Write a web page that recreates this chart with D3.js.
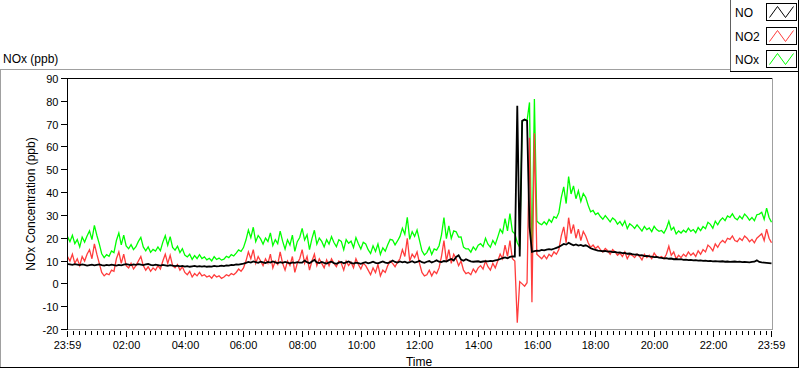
<!DOCTYPE html>
<html><head><meta charset="utf-8">
<script src="https://cdn.jsdelivr.net/npm/d3@7/dist/d3.min.js"></script>
<style>
html,body{margin:0;padding:0;background:#fff;}
svg{display:block;font-family:"Liberation Sans",Arial,sans-serif;}
</style></head><body>
<svg id="chart" width="800" height="369"></svg>
<script>
// ---------------- data ----------------
const chartTitle = "NOx (ppb)";
const yLabel = "NOx Concentration (ppb)";
const xLabel = "Time";
const seriesNames = ["NO", "NO2", "NOx"];
const seriesColors = ["#000000", "#ff3c3c", "#00ff00"];
const startTime = "2000-01-01T23:59";
const endTime = "2000-01-02T23:59";
const stepMinutes = 5;
const yTicks = [-20, -10, 0, 10, 20, 30, 40, 50, 60, 70, 80, 90];
const xTickLabels = ["23:59","02:00","04:00","06:00","08:00","10:00","12:00","14:00","16:00","18:00","20:00","22:00","23:59"];
const xTickTimes = ["2000-01-01T23:59","2000-01-02T02:00","2000-01-02T04:00","2000-01-02T06:00","2000-01-02T08:00","2000-01-02T10:00","2000-01-02T12:00","2000-01-02T14:00","2000-01-02T16:00","2000-01-02T18:00","2000-01-02T20:00","2000-01-02T22:00","2000-01-02T23:59"];
const minorTickMinutes = 12;

const NO = [
8.7,8.5,8.3,8.6,8.4,8.2,8.5,8.3,8.0,8.2,8.4,8.1,8.3,8.5,8.2,8.0,8.3,8.1,8.4,8.2,8.0,8.3,8.1,8.4,8.6,
8.4,8.2,8.5,8.3,8.6,8.4,8.2,8.5,8.7,8.3,8.1,8.4,8.2,8.0,8.3,8.1,7.9,8.2,8.0,7.8,8.0,7.7,7.9,7.6,7.8,7.5,7.7,7.9,7.6,7.8,
7.6,7.8,7.5,7.7,7.6,7.9,7.7,7.8,8.0,7.8,8.1,8.0,8.3,8.2,8.5,8.4,8.7,8.9,
9.2,9.6,9.3,9.8,9.5,9.2,9.7,9.4,9.1,9.6,9.3,9.8,9.4,9.1,9.5,9.2,9.6,9.3,9.0,9.4,9.2,9.5,9.3,
9.3,10.2,9.5,9.0,9.8,10.5,9.4,9.1,9.6,9.2,8.9,9.4,9.7,9.1,8.8,9.3,9.6,9.0,9.4,9.8,9.2,8.9,9.3,9.1,8.8,9.2,9.5,9.0,9.3,9.7,9.2,9.0,9.4,9.8,9.3,9.1,9.5,10.2,9.6,9.3,9.8,
9.4,9.7,9.2,9.5,9.9,9.3,9.6,10.1,9.5,9.2,9.7,10.0,9.4,9.8,10.3,9.7,9.5,10.0,9.8,10.4,10.9,10.2,11.8,12.5,10.6,10.1,10.8,10.3,9.9,9.7,9.8,9.9,9.6,9.8,10.0,9.9,10.1,10.0,10.3,10.5,10.9,11.3,11.6,11.2,11.8,12.0,
12,78,12,71.5,72,71.5,25,14,14.3,
14.6,14.5,14.9,14.7,15.0,15.2,15.0,15.4,15.8,16.2,
16.8,17.5,17.2,18.0,17.4,16.9,17.3,16.8,17.1,16.6,16.9,16.4,
15.6,15.2,14.9,14.6,14.5,14.3,14.4,14.1,14.2,13.9,14.0,13.7,13.8,13.5,13.6,13.2,13.3,13.0,12.8,12.9,12.5,12.6,12.2,12.3,12.0,11.9,11.7,11.8,11.5,
11.4,11.2,11.3,11.0,11.1,10.8,10.9,10.7,10.8,10.5,10.6,10.4,10.5,10.3,10.4,10.2,10.3,10.1,10.2,10.0,10.1,9.9,10.0,9.9,9.8,9.9,9.7,9.8,9.6,9.7,9.8,9.6,9.7,9.5,9.6,9.5,9.4,9.6,9.7,10.3,9.6,9.4,9.3,9.2,9.1,9.0
];
const NO2 = [
12,10,13,9,11,8,12,10,13,15,11,17.5,13,9,5,3.5,4.5,4,6,5.5,11,14,9,13,8,
7,9,6.5,8,10,12,8,6,7.5,5.5,7,6,8,6.5,10,13,9,12.5,8,7,8.5,6,7.5,5,4,5.5,3,4.5,3.5,5,
3.5,4,3,3.5,2.5,4,3,3.5,2.4,3,4,3.5,4.5,4,5,6.5,5.5,7,
10,14,11,15,9,12,10,8,11,9,13,7,10,8.5,14,9,6,10,8,12,5,9,11,
15,9,12,6,10,13,8,11,9,7,10.5,8,11,9,7.5,10,9,6,10,8,9.5,7,11,8.5,6.5,9,8,6,4,7,5,8.5,3.5,6,5,8,10,9,7.5,9.5,11,
15,12,20,10,13,11.5,14,9,5,3.5,4,6,3.5,5.5,4.5,7,12,19,10,15,9,13,11,8,10,6,4.5,5,4,6.5,5,7,8,6.5,10,7.5,6,9,7,10,13,11,17,12,19,11,
10,-17,1,0,-1,0.5,64,-8,66,
13,12,11,12.5,11,13,12,14,13,15,
21,25,18,29,22,26,20,24,19,23,21,18,
16,17,15.5,16.5,15,14,15.5,14.5,13,15,14,12.5,13.5,12,14,11,13,12.5,11.5,13,12,10.5,13,11.5,12.5,11,13.5,12,11.5,
12,11,13,16.5,12.5,14,11,12.5,11.5,13,12,14,12.5,13.5,12,14.5,13,15,14,17,16,14.5,17.5,16,18,19,18,20,19.5,21,19,18.5,20,19,21,20,18.5,19.5,18,20,21,22,19,24,20,18
];
const NOx = [
20.7,18.5,21.3,17.6,19.4,16.2,20.5,18.3,21,23.2,19.4,25.6,21.3,17.5,13.2,11.5,12.8,12.1,14.4,13.7,19,22.3,17.1,21.4,16.6,
15.4,17.2,15,16.3,18.6,20.4,16.2,14.5,16.2,13.8,15.1,14.4,16.2,14.5,18.3,21.1,16.9,20.7,16,14.8,16.5,13.7,15.4,12.6,11.8,13,10.7,12.4,11.1,12.8,
11.1,11.8,10.5,11.2,10.1,11.9,10.7,11.3,10.4,10.8,12.1,11.5,12.8,12.2,13.5,14.9,14.2,15.9,
19.2,23.6,20.3,24.8,18.5,21.2,19.7,17.4,20.1,18.6,22.3,16.8,19.4,17.6,23.1,18.7,15.2,19.3,17,21.4,14.2,18.5,20.3,
24.3,19.2,21.5,15,19.8,23.5,17.4,20.1,18.6,16.2,19.4,17.4,20.7,18.1,16.3,19.3,18.6,15,19.4,17.8,18.7,15.9,20.3,17.6,15.3,18.2,17.5,15,13.3,16.7,14.2,17.5,12.9,15.8,14.3,17.1,19.5,19.2,17.1,18.8,20.8,
24.4,21.7,29.2,19.5,22.9,20.8,23.6,19.1,14.5,12.7,13.7,16,12.9,15.3,14.8,16.7,21.5,29,19.8,25.4,19.9,23.2,22.8,20.5,20.6,16.1,15.3,15.3,13.9,16.2,14.8,16.9,17.6,16.3,20,17.4,16.1,19,17.3,20.5,23.9,22.3,28.6,23.2,30.8,23,
22,18,16,71,72,71.5,79.5,7,81,
27.6,26.5,25.9,27.2,26,28.2,27,29.4,28.8,31.2,
37.8,42.5,35.2,47,39.4,42.9,37.3,40.8,36.1,39.6,37.9,34.4,
31.6,32.2,30.4,31.1,29.5,28.3,29.9,28.6,27.2,28.9,28,26.2,27.3,25.5,27.6,24.2,26.3,25.5,24.3,25.9,24.5,23.1,25.2,23.8,24.5,22.9,25.2,23.8,23,
23.4,22.2,24.3,27.5,23.6,24.8,21.9,23.2,22.3,23.5,22.6,24.4,23,23.8,22.4,24.7,23.3,25.1,24.2,27,26.1,24.4,27.5,25.9,27.8,28.9,27.7,29.8,29.1,30.7,28.8,28.1,29.7,28.5,30.6,29.5,27.9,29.1,27.7,30.3,30.6,31.4,28.3,33.2,29.1,27
];

// ---------------- drawing ----------------
const svg = d3.select("#chart");
const parse = d3.timeParse("%Y-%m-%dT%H:%M");
const t0 = parse(startTime), t1 = parse(endTime);

const x = d3.scaleTime().domain([t0, t1]).range([67.5, 771.5]);
const y = d3.scaleLinear().domain([-20, 90]).range([329.5, 78.5]);

const GRAY = "#a0a0a0";
function hline(x1, x2, yy, c) { svg.append("line").attr("x1", x1).attr("x2", x2).attr("y1", yy).attr("y2", yy).attr("stroke", c).attr("shape-rendering", "crispEdges"); }
function vline(xx, y1, y2, c) { svg.append("line").attr("x1", xx).attr("x2", xx).attr("y1", y1).attr("y2", y2).attr("stroke", c).attr("shape-rendering", "crispEdges"); }

// outer frame
hline(0, 730, 69.5, GRAY);
vline(0.5, 69, 368, GRAY);
hline(0, 799, 367.5, "#000");
vline(798.5, 0, 368, "#000");
// legend frame
vline(730.5, 0, 72, "#606060");
hline(730, 799, 71.5, "#000");

// title
svg.append("text").attr("x", 3).attr("y", 63).attr("font-size", 12).attr("fill", "#000").text(chartTitle);

// plot box
hline(67, 773, 78.5, "#000");
vline(772.5, 78, 330, GRAY);
hline(67, 773, 329.5, GRAY);

// clip
svg.append("clipPath").attr("id", "clip").append("rect")
  .attr("x", 68).attr("y", 79).attr("width", 704).attr("height", 250);

const times = NO.map((_, i) => d3.timeMinute.offset(t0, i * stepMinutes));
const series = [NOx, NO2, NO];
const drawColors = [seriesColors[2], seriesColors[1], seriesColors[0]];
const widths = [1.3, 1.3, 1.8];
const line = d3.line().x((d, i) => x(times[i])).y(d => y(d));
const g = svg.append("g").attr("clip-path", "url(#clip)");
series.forEach((s, k) => {
  g.append("path").datum(s).attr("d", line)
    .attr("fill", "none").attr("stroke", drawColors[k]).attr("stroke-width", widths[k])
    .attr("stroke-linejoin", "miter");
});

// y axis
vline(67.5, 78, 330, "#000");
yTicks.forEach(v => {
  const yy = Math.round(y(v) - 0.5) + 0.5;
  hline(61, 67, yy, "#000");
  svg.append("text").attr("x", 58.5).attr("y", yy + 4).attr("text-anchor", "end")
    .attr("font-size", 11).attr("fill", "#000").text(v);
});

// x axis ticks
const majorTimes = xTickTimes.map(parse);
const minor = d3.timeMinute.every(minorTickMinutes).range(t0, t1)
  .filter(t => majorTimes.every(m => Math.abs(m - t) > 3 * 60000));
minor.forEach(t => {
  const xx = Math.round(x(t) - 0.5) + 0.5;
  vline(xx, 331, 335, "#000");
});
majorTimes.forEach((t, i) => {
  const xx = Math.round(x(t) - 0.5) + 0.5;
  vline(xx, 331, 337, "#000");
  svg.append("text").attr("x", xx).attr("y", 349).attr("text-anchor", "middle")
    .attr("font-size", 11).attr("fill", "#000").text(xTickLabels[i]);
});

// axis labels
svg.append("text").attr("x", 419).attr("y", 366).attr("text-anchor", "middle")
  .attr("font-size", 12).attr("fill", "#000").text(xLabel);
svg.append("text").attr("transform", "translate(35,204) rotate(-90)").attr("text-anchor", "middle")
  .attr("font-size", 12).attr("fill", "#000").text(yLabel);

// legend
seriesNames.forEach((n, i) => {
  const y0 = [3, 27, 50][i];
  svg.append("text").attr("x", 735).attr("y", y0 + 14).attr("font-size", 12).attr("fill", "#000").text(n);
  svg.append("rect").attr("x", 766.5).attr("y", y0 + 0.5).attr("width", 30).attr("height", 17)
    .attr("fill", "#fff").attr("stroke", "#000").attr("shape-rendering", "crispEdges");
  const pts = [[3, 14], [11, 3], [19, 14], [27, 3]].map(p => [766.5 + p[0], y0 + 0.5 + p[1]]);
  svg.append("path").attr("d", d3.line()(pts)).attr("fill", "none").attr("stroke", seriesColors[i]).attr("stroke-width", 1);
});
</script>
</body></html>
